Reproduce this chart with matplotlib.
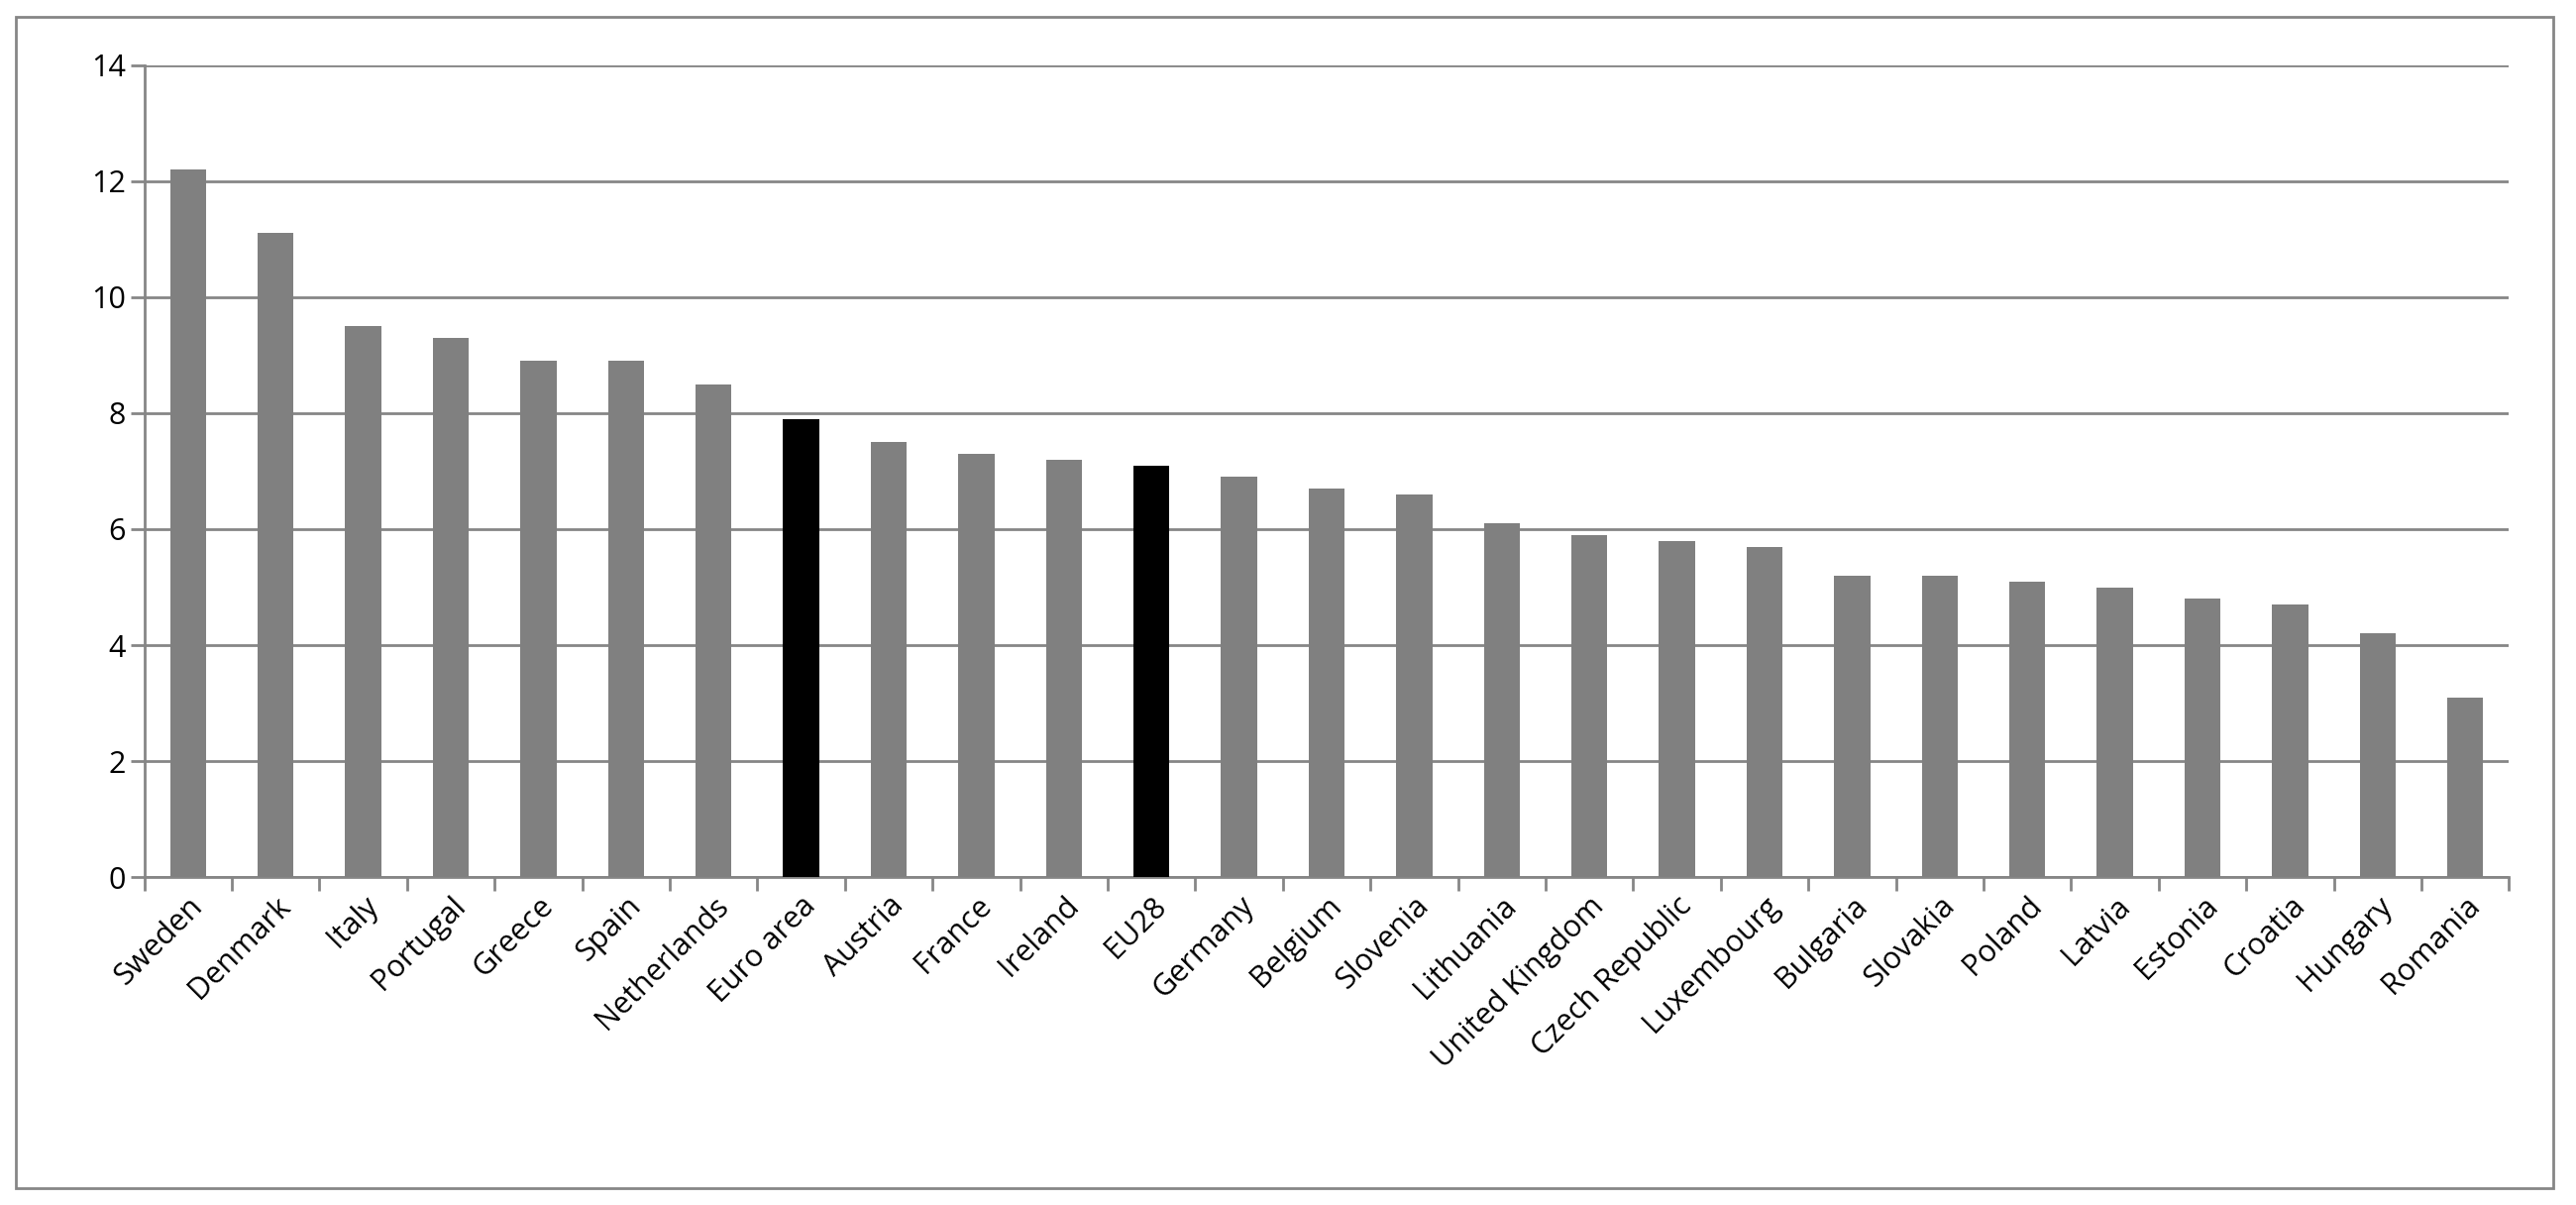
import matplotlib
matplotlib.use("Agg")
import matplotlib.pyplot as plt
import numpy as np

countries = ["Sweden","Denmark","Italy","Portugal","Greece","Spain","Netherlands","Euro area",
             "Austria","France","Ireland","EU28","Germany","Belgium","Slovenia","Lithuania",
             "United Kingdom","Czech Republic","Luxembourg","Bulgaria","Slovakia","Poland",
             "Latvia","Estonia","Croatia","Hungary","Romania"]
values = [12.2,11.1,9.5,9.3,8.9,8.9,8.5,7.9,7.5,7.3,7.2,7.1,6.9,6.7,6.6,6.1,5.9,5.8,5.7,
          5.2,5.2,5.1,5.0,4.8,4.7,4.2,3.1]
highlight = ["Euro area","EU28"]

plt.rcParams['font.family'] = ['Open Sans','DejaVu Sans']
fig = plt.figure(figsize=(26,12.16), dpi=100)
ax = fig.add_axes([0.056,0.272,0.918,0.674])
x = np.arange(len(countries))
colors = ['black' if c in highlight else '#808080' for c in countries]
ax.bar(x, values, width=0.41, color=colors, zorder=3)
ax.set_xlim(-0.5, len(countries)-0.5)
ax.set_ylim(0,14)
ax.set_yticks(range(0,15,2))
ax.yaxis.grid(True, color='#868686', linewidth=2, zorder=0)
ax.set_xticks(x)
ax.set_xticklabels(countries, rotation=45, ha='right', rotation_mode='anchor', fontsize=22)
ax.tick_params(axis='x', length=0, pad=10)
ax.set_xticks(np.arange(-0.5, len(countries)), minor=True)
ax.tick_params(axis='x', which='minor', length=10, width=2, color='#868686')
ax.tick_params(axis='y', labelsize=22, length=10, width=2, color='#868686')
for s in ['top','right']:
    ax.spines[s].set_visible(False)
for s in ['left','bottom']:
    ax.spines[s].set_color('#868686'); ax.spines[s].set_linewidth(2)
fig.patches.append(plt.Rectangle((0.006,0.014),0.985,0.972, transform=fig.transFigure,
                                 fill=False, edgecolor='#868686', linewidth=2))
fig.savefig("out.png", dpi=100, facecolor='white')
